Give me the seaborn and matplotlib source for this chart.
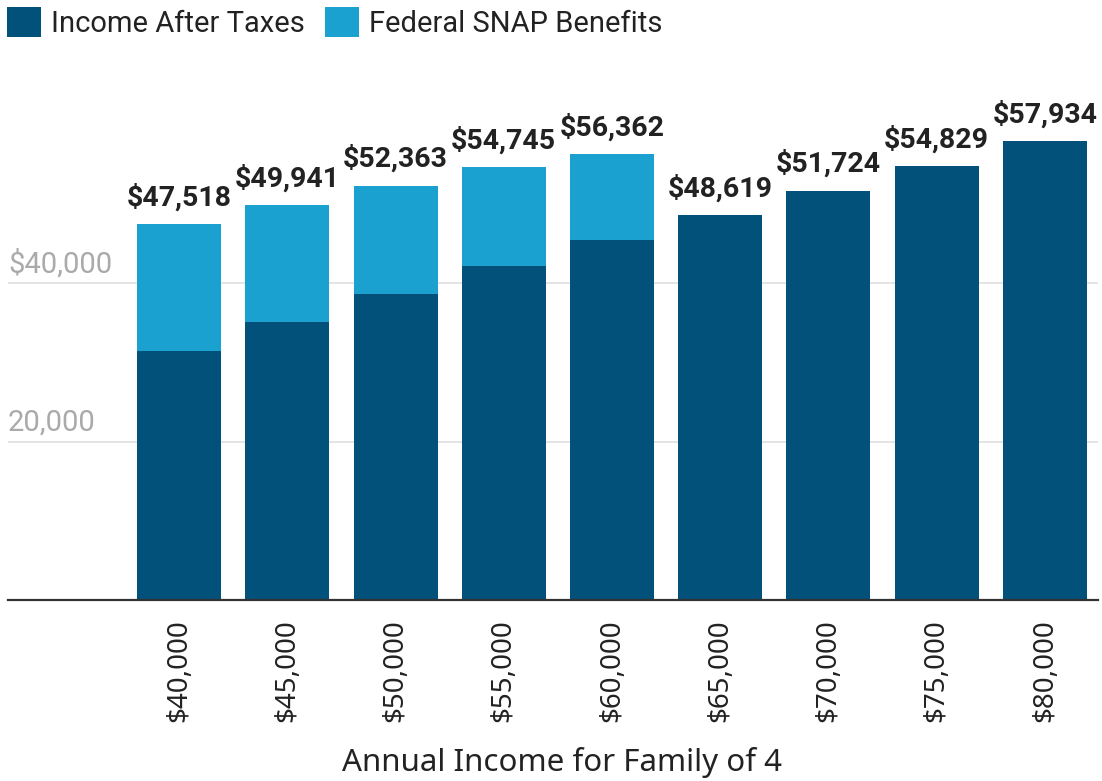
import matplotlib
matplotlib.use("Agg")
import matplotlib.pyplot as plt
import matplotlib.transforms as mtransforms
from matplotlib.patches import Patch
import seaborn as sns
import pandas as pd

# ---- data ----
categories = ["$40,000", "$45,000", "$50,000", "$55,000", "$60,000",
              "$65,000", "$70,000", "$75,000", "$80,000"]
income_after_taxes = [31440, 35140, 38680, 42170, 45450, 48619, 51724, 54829, 57934]
snap_benefits = [16078, 14801, 13683, 12575, 10912, 0, 0, 0, 0]
ytick_values = [20000, 40000]
ytick_labels = ["20,000", "$40,000"]
series_names = ["Income After Taxes", "Federal SNAP Benefits"]
xlabel = "Annual Income for Family of 4"

totals = [a + b for a, b in zip(income_after_taxes, snap_benefits)]
df = pd.DataFrame({"cat": categories, "income": income_after_taxes, "total": totals})

DARK = "#02517a"
LIGHT = "#1ba1cf"
TEXT = "#222222"

sns.set_style("white")
plt.rcParams["font.family"] = ["Roboto", "DejaVu Sans"]

W, H = 1102, 781
fig = plt.figure(figsize=(W / 100, H / 100), dpi=100)
ymax = 66000
px_per_unit = 158.3 / 20000
ax_h = ymax * px_per_unit
ax = fig.add_axes([8 / W, (H - 600) / H, 1090 / W, ax_h / H])

bw = 0.776
sns.barplot(data=df, x="cat", y="total", color=LIGHT, saturation=1, width=bw,
            linewidth=0, ax=ax, zorder=2)
sns.barplot(data=df, x="cat", y="income", color=DARK, saturation=1, width=bw,
            linewidth=0, ax=ax, zorder=3)

ax.set_xlim(-1.58, 8.49)
ax.set_ylim(0, ymax)
ax.set_ylabel("")

# total labels
ax.bar_label(ax.containers[0], labels=[f"${v:,}" for v in totals], padding=9,
             fontsize=20.5, fontweight="bold", color=TEXT, family=["Roboto", "DejaVu Sans"])

# grid
ax.set_yticks(ytick_values)
ax.set_yticklabels([])
ax.tick_params(axis="y", length=0)
ax.yaxis.grid(True, color="#e4e4e4", linewidth=1.4, zorder=0)
ax.set_axisbelow(True)
for s in ["top", "right", "left"]:
    ax.spines[s].set_visible(False)
ax.spines["bottom"].set_color("#333333")
ax.spines["bottom"].set_linewidth(1.6)
ax.spines["bottom"].set_zorder(5)

# y labels inside axes, above gridlines
trans = mtransforms.offset_copy(ax.get_yaxis_transform(), fig=fig, x=0, y=11, units="dots")
for v, lab in zip(ytick_values, ytick_labels):
    ax.text(0, v, lab, transform=trans, ha="left", va="baseline",
            fontsize=21, color="#aaaaaa", family=["Roboto", "DejaVu Sans"])

# x ticks
ax.tick_params(axis="x", length=0, pad=14, labelsize=20, labelcolor=TEXT, rotation=90)
for t in ax.get_xticklabels():
    t.set_fontfamily(["Noto Sans", "DejaVu Sans"])
ax.set_xlabel(xlabel, fontsize=22.5, color=TEXT, family=["Noto Sans", "DejaVu Sans"])
ax.xaxis.set_label_coords((562 - 8) / 1090, -(762 - 600) / ax_h)
ax.xaxis.label.set_va("center")

# legend
handles = [Patch(facecolor=DARK, edgecolor="none"), Patch(facecolor=LIGHT, edgecolor="none")]
fig.legend(handles, series_names, loc="upper left", bbox_to_anchor=(0.0, 1.0),
           ncol=2, frameon=False, fontsize=21, handlelength=1.15, handleheight=1.2,
           handletextpad=0.35, columnspacing=0.7, borderaxespad=0.0, borderpad=0.25,
           labelcolor=TEXT)

fig.savefig("out.png", dpi=100)
